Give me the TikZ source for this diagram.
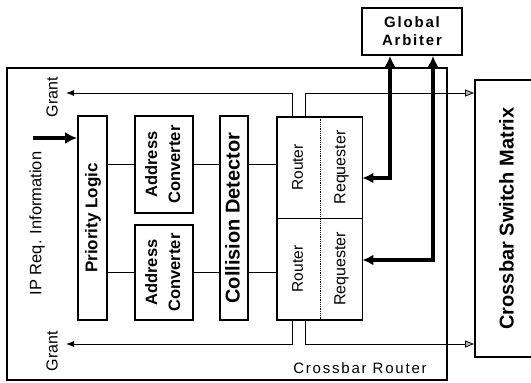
\documentclass[tikz,border=0pt]{standalone}
\usepackage{fontspec}
\setmainfont{Liberation Sans}
\newfontfamily\spacedfont[LetterSpace=12]{Liberation Sans}
\usetikzlibrary{arrows.meta}
\newcommand\vlabel[1]{\rotatebox{90}{\begin{tabular}{@{}c@{}}#1\end{tabular}}}
\newcommand\fsz[1]{\fontsize{#1}{1.4\dimexpr#1pt\relax}\selectfont}

\begin{document}
\begin{tikzpicture}[x=1pt,y=-1pt,>={Latex[length=8pt,width=6pt]},
	blk/.style={draw,line width=1.8pt,inner sep=0pt,font=\bfseries},
	cell/.style={inner sep=0pt,minimum width=42.5pt},
	wire/.style={line width=.8pt},
	bus/.style={line width=3.6pt,{Latex[length=11pt,width=11pt]}-{Latex[length=11pt,width=11pt]}},
	outarrow/.style={wire,-{Triangle[length=9pt,width=7pt,fill=gray!60]}}
]
	\useasboundingbox (0,0) rectangle (531,383);
	\begin{scope}
		\draw[line width=1.2pt] (7,68) rectangle (447,380);
		\node[font=\spacedfont\fsz{15}] (xrLabel) at (360,368) {Crossbar Router};
	\end{scope}
	\begin{scope}
		\node[blk,minimum width=100pt,minimum height=47pt,align=center,
			font=\spacedfont\fontsize{15}{18}\selectfont\bfseries] (arbiter) at (412,31.5) {Global\\Arbiter};
		\node[blk,minimum width=66pt,minimum height=277pt,font=\fsz{20}\bfseries]
			(matrix) at (508,218.5) {\vlabel{Crossbar Switch Matrix}};
	\end{scope}
	\begin{scope}
		\node[blk,minimum width=29pt,minimum height=204pt,font=\fsz{17}\bfseries]
			(prio) at (92.5,218) {\vlabel{Priority Logic}};
		\node[blk,minimum width=58pt,minimum height=97pt,font=\fontsize{16.5}{23}\selectfont\bfseries]
			(addrA) at (164,164.5) {\vlabel{Address\\Converter}};
		\node[blk,minimum width=58pt,minimum height=95pt,font=\fontsize{16.5}{23}\selectfont\bfseries]
			(addrB) at (164,272.5) {\vlabel{Address\\Converter}};
		\node[blk,minimum width=28pt,minimum height=204pt,font=\fsz{20}\bfseries]
			(coll) at (234,218) {\vlabel{Collision Detector}};
	\end{scope}
	\begin{scope}
		\node[cell,minimum height=101pt,font=\fsz{15.5}] (rtA) at (298.5,167.5) {\vlabel{Router}};
		\node[cell,minimum height=101pt,font=\fsz{16}] (rqA) at (341,167.5) {\vlabel{Requester}};
		\node[cell,minimum height=102pt,font=\fsz{15.5}] (rtB) at (298.5,269) {\vlabel{Router}};
		\node[cell,minimum height=102pt,font=\fsz{16}] (rqB) at (341,269) {\vlabel{Requester}};
		\draw[line width=1.8pt] (rtA.north west) rectangle (rqB.south east);
		\draw[wire] (rtA.south west) -- (rqA.south east);
		\draw[wire,densely dotted] (rtA.north east) -- (rtB.south east);
	\end{scope}
	\begin{scope}[wire]
		\draw (prio.east |- addrA.west) -- (addrA.west);
		\draw (addrA.east) -- (coll.west |- addrA.east);
		\draw (coll.east |- addrA.east) -- (rtA.west |- addrA.east);
		\draw (prio.east |- addrB.west) -- (addrB.west);
		\draw (addrB.east) -- (coll.west |- addrB.east);
		\draw (coll.east |- addrB.east) -- (rtB.west |- addrB.east);
	\end{scope}
	\begin{scope}
		\coordinate (grantTop) at (66,93);
		\coordinate (grantBot) at (66,344);
		\draw[wire,->] ([xshift=-6.5pt]rtA.north) |- (grantTop);
		\draw[wire,->] ([xshift=-6.5pt]rtB.south) |- (grantBot);
		\draw[outarrow] ([xshift=6.5pt]rtA.north) |- (matrix.west |- grantTop);
		\draw[outarrow] ([xshift=6.5pt]rtB.south) |- (matrix.west |- grantBot);
		\node[rotate=90,font=\fsz{16}] (grantTopLabel) at (52,97) {Grant};
		\node[rotate=90,font=\fsz{16}] (grantBotLabel) at (52,351) {Grant};
	\end{scope}
	\begin{scope}
		\coordinate (busA) at (362,178);
		\coordinate (busB) at (362,260);
		\draw[bus] ([xshift=-22pt]arbiter.south) |- (rqA.east |- busA);
		\draw[bus] ([xshift=21pt]arbiter.south) |- (rqB.east |- busB);
	\end{scope}
	\begin{scope}
		\coordinate (ipTail) at (33,138);
		\draw[line width=3.6pt,-{Latex[length=12pt,width=12pt]}] (ipTail) -- (prio.west |- ipTail);
		\node[rotate=90,font=\fsz{16.5}] (ipLabel) at (37,223.5) {IP Req. Information};
	\end{scope}
\end{tikzpicture}
\end{document}
